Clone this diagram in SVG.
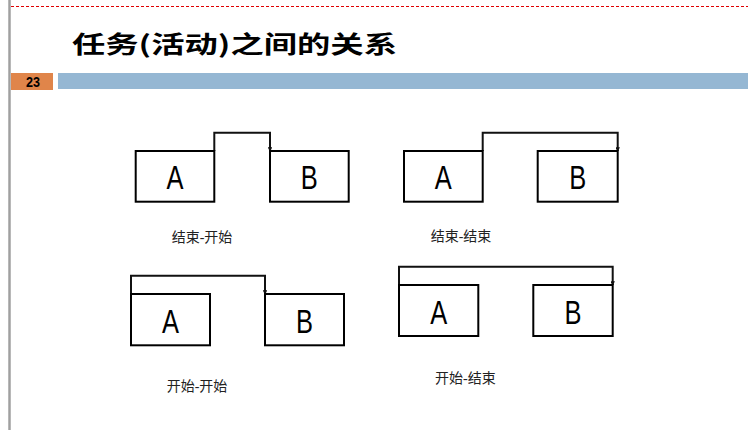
<svg xmlns="http://www.w3.org/2000/svg" width="748" height="430" viewBox="0 0 748 430">
<defs>
<style>
.box{fill:#fff;stroke:#000;stroke-width:2}
.conn{fill:none;stroke:#111;stroke-width:2}
.let{font-family:"Liberation Sans",Arial,sans-serif;font-size:34px;fill:#000;text-anchor:middle}
.lab{font-family:"Liberation Serif","Noto Sans CJK SC",serif;font-size:14px;fill:#222}
</style>
<marker id="tick" viewBox="0 0 6 6" refX="5" refY="3" markerWidth="2.2" markerHeight="2.2" orient="auto">
<path d="M0,0 L6,3 L0,6 z" fill="#111"/>
</marker>
</defs>
<rect width="748" height="430" fill="#fff"/>
<line x1="9.5" y1="0" x2="9.5" y2="430" stroke="#a0a0a0" stroke-width="2.5"/>
<line x1="11" y1="6.5" x2="748" y2="6.5" stroke="#e00000" stroke-width="1" stroke-dasharray="3,2"/>
<text x="72" y="53" font-family="'Noto Sans CJK SC',sans-serif" font-weight="bold" font-size="24" textLength="325" lengthAdjust="spacingAndGlyphs" fill="#000">任务(活动)之间的关系</text>
<rect x="11" y="73" width="42" height="17" fill="#e0854a"/>
<text x="33" y="87" font-family="'Liberation Sans',Arial,sans-serif" font-weight="bold" font-size="14" text-anchor="middle" textLength="14" lengthAdjust="spacingAndGlyphs" fill="#000">23</text>
<rect x="58" y="73" width="690" height="16" fill="#95b7d3"/>

<g id="connectors">
<path class="conn" d="M214.3,151 V132.7 H270 V151" marker-end="url(#tick)"/>
<path class="conn" d="M482.7,151 V132.7 H617.7 V151" marker-end="url(#tick)"/>
<path class="conn" d="M131,294 V275.7 H265 V294" marker-end="url(#tick)"/>
<path class="conn" d="M399,285 V266.7 H612.7 V285" marker-end="url(#tick)"/>
</g>

<g id="fs-A"><rect class="box" x="135.7" y="151" width="78.6" height="50.7"/><text class="let" x="175" y="189" textLength="17" lengthAdjust="spacingAndGlyphs">A</text></g>
<g id="fs-B"><rect class="box" x="270" y="151" width="78.7" height="50.7"/><text class="let" x="309.3" y="189" textLength="17" lengthAdjust="spacingAndGlyphs">B</text></g>
<text class="lab" x="171.7" y="242">结束-开始</text>

<g id="ff-A"><rect class="box" x="404" y="151" width="78.7" height="50.7"/><text class="let" x="443.3" y="189" textLength="17" lengthAdjust="spacingAndGlyphs">A</text></g>
<g id="ff-B"><rect class="box" x="537.7" y="151" width="80" height="50.7"/><text class="let" x="577.7" y="189" textLength="17" lengthAdjust="spacingAndGlyphs">B</text></g>
<text class="lab" x="430.7" y="241">结束-结束</text>

<g id="ss-A"><rect class="box" x="131" y="294" width="79" height="51.3"/><text class="let" x="170.5" y="332.5" textLength="17" lengthAdjust="spacingAndGlyphs">A</text></g>
<g id="ss-B"><rect class="box" x="265" y="294" width="79" height="51.3"/><text class="let" x="304.5" y="332.5" textLength="17" lengthAdjust="spacingAndGlyphs">B</text></g>
<text class="lab" x="166.7" y="391">开始-开始</text>

<g id="sf-A"><rect class="box" x="399" y="285" width="79.3" height="51"/><text class="let" x="438.7" y="323.5" textLength="17" lengthAdjust="spacingAndGlyphs">A</text></g>
<g id="sf-B"><rect class="box" x="533.3" y="285" width="79.4" height="51"/><text class="let" x="573" y="323.5" textLength="17" lengthAdjust="spacingAndGlyphs">B</text></g>
<text class="lab" x="435" y="383">开始-结束</text>
</svg>
